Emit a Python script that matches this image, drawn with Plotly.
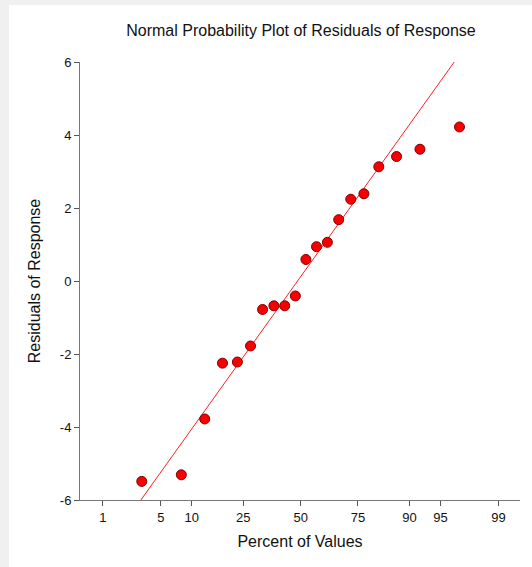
import plotly.graph_objects as go
from statistics import NormalDist

# Residuals (sorted)
residuals = [-5.49, -5.31, -3.78, -2.25, -2.22, -1.78, -0.78, -0.68, -0.68, -0.41,
             0.59, 0.94, 1.06, 1.68, 2.24, 2.39, 3.13, 3.41, 3.61, 4.22]

# Percent axis tick labels
tick_percents = [1, 5, 10, 25, 50, 75, 90, 95, 99]
tick_labels = ["1", "5", "10", "25", "50", "75", "90", "95", "99"]

# Y axis ticks
y_ticks = [-6, -4, -2, 0, 2, 4, 6]
y_tick_labels = ["-6", "-4", "-2", "0", "2", "4", "6"]

# Reference line (in normal-score units): y = intercept + slope * z
line_intercept = 0.118
line_slope = 3.256

nd = NormalDist()
n = len(residuals)
# Blom plotting positions -> normal scores
zscores = [nd.inv_cdf((i + 1 - 0.375) / (n + 0.25)) for i in range(n)]
tickvals = [nd.inv_cdf(p / 100.0) for p in tick_percents]

ymin, ymax = -6, 6
z_lo = (ymin - line_intercept) / line_slope
z_hi = (ymax - line_intercept) / line_slope

fig = go.Figure()
fig.add_trace(go.Scatter(
    x=[z_lo, z_hi], y=[ymin, ymax], mode="lines",
    line=dict(color="#ff2020", width=1), hoverinfo="skip", showlegend=False))
fig.add_trace(go.Scatter(
    x=zscores, y=residuals, mode="markers",
    marker=dict(size=10, color="#f80000", line=dict(color="#800000", width=1)),
    showlegend=False))

font_family = "Liberation Sans, Arial, sans-serif"

fig.update_layout(
    width=532, height=567,
    margin=dict(l=80, r=12, t=62, b=67),
    paper_bgcolor="#f0f0f0",
    plot_bgcolor="white",
    font=dict(family=font_family, size=13, color="#111111"),
    title=dict(text="Normal Probability Plot of Residuals of Response",
               x=(301 / 532), xanchor="center", y=1 - 30 / 567, yanchor="middle",
               font=dict(size=16, color="#111111")),
    shapes=[dict(type="rect", xref="paper", yref="paper",
                 x0=(9 - 80) / 440, x1=(540 - 80) / 440,
                 y0=(500 - 575) / 438, y1=(500 - 5) / 438,
                 fillcolor="white", line=dict(width=0), layer="below")],
    xaxis=dict(
        range=[-2.595, 2.58],
        tickmode="array", tickvals=tickvals, ticktext=tick_labels,
        ticks="outside", ticklen=5, tickcolor="#555555",
        showline=True, linecolor="#777777", linewidth=1,
        showgrid=False, zeroline=False,
        title=dict(text="Percent of Values", font=dict(size=16), standoff=12),
    ),
    yaxis=dict(
        range=[ymin, ymax],
        tickmode="array", tickvals=y_ticks, ticktext=y_tick_labels,
        ticks="outside", ticklen=5, tickcolor="#555555",
        showline=True, linecolor="#777777", linewidth=1,
        showgrid=False, zeroline=False,
        title=dict(text="Residuals of Response", font=dict(size=16), standoff=15),
    ),
)

fig.write_html("out.html")
